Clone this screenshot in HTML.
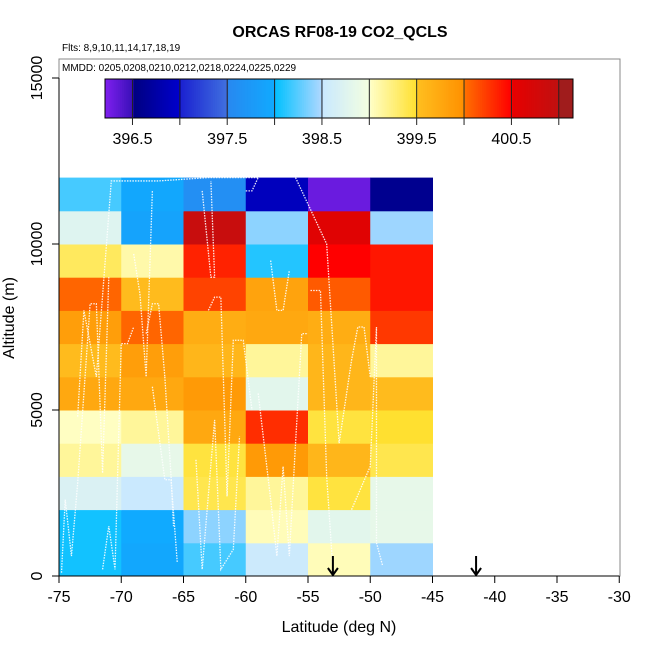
<!DOCTYPE html>
<html><head><meta charset="utf-8"><style>
body{margin:0;background:#fff;font-family:"Liberation Sans",sans-serif}
svg text{font-family:"Liberation Sans",sans-serif}
</style></head><body>
<svg id="chart" width="650" height="650" xmlns="http://www.w3.org/2000/svg">
<rect width="650" height="650" fill="#fff"/>
<text x="340" y="37" text-anchor="middle" font-size="16" font-weight="bold">ORCAS RF08-19 CO2_QCLS</text>
<text x="62" y="51" font-size="10">Flts: 8,9,10,11,14,17,18,19</text>
<rect x="59" y="59" width="561" height="517" fill="none" stroke="#888" stroke-width="1"/>
<text x="62" y="71" font-size="10">MMDD: 0205,0208,0210,0212,0218,0224,0225,0229</text>
<g id="cells"></g>
<g id="tracks" fill="none" stroke="#fff" stroke-width="1.3" stroke-dasharray="1.5 1.2" opacity="0.9"></g>
<g id="cbar"></g>
<g id="axes"></g>
</svg>
<script>
const latEdges = [-75,-70,-65,-60,-55,-50,-45];
const altEdges = [0,1000,2000,3000,4000,5000,6000,7000,8000,9000,10000,11000,12000];
// rows bottom (0-1000 m) to top (11000-12000 m), columns -75..-45
const co2Rows = [
 [398.05,397.95,398.2,398.55,399.05,398.45],
 [398.05,398.0,398.4,399.05,398.8,398.85],
 [398.7,398.52,399.4,399.15,399.45,398.85],
 [399.15,398.85,399.45,399.9,399.6,399.4],
 [399.02,399.15,399.75,400.3,399.45,399.5],
 [399.75,399.75,399.9,398.8,399.6,399.55],
 [399.55,399.85,399.6,399.15,399.6,399.15],
 [399.85,400.05,399.7,399.75,399.7,400.25],
 [400.05,399.55,400.2,399.8,400.1,400.4],
 [399.35,399.1,400.35,398.1,400.5,400.4],
 [398.75,397.9,400.9,398.4,400.6,398.45],
 [398.2,397.95,397.6,396.9,396.3,396.6]
];
const xTicks = [-75,-70,-65,-60,-55,-50,-45,-40,-35,-30];
const yTicks = [0,5000,10000,15000];
const cbTicks = [396.5,397.5,398.5,399.5,400.5];
const cbLines = [396.5,397,397.5,398,398.5,399,399.5,400,400.5,401];
const arrowLats = [-53,-41.5];
const cbMin = 396.21, cbMax = 401.15;
const segs = [
 [396.21,396.5,'#8020f0','#3a10b8'],[396.5,397,'#000080','#0000cc'],[397,397.5,'#1a20d0','#4070e0'],
 [397.5,398,'#2888f0','#10aaff'],[398,398.5,'#00c0ff','#b0d8ff'],[398.5,399,'#c8e8ff','#f4ffe0'],
 [399,399.5,'#ffffc8','#ffe030'],[399.5,400,'#ffc020','#ff9000'],[400,400.5,'#ff7000','#ff0000'],
 [400.5,401,'#e80000','#c01010'],[401,401.2,'#a01c1c','#a01c1c']];
const tracks = [
 [[-74.8,100],[-74.5,2300],[-74,600],[-73.5,2800],[-72.5,8200],[-72,8200],[-71.5,3100],[-71,9000]],
 [[-73.5,4800],[-73,8000],[-72,6000],[-71,10900],[-70.8,11900],[-67,11900],[-63,12000],[-59,12000]],
 [[-71.5,200],[-71,1500],[-70.5,200],[-70,7000],[-69.5,7000],[-69,7500]],
 [[-69,9700],[-68.5,8500],[-68,6000],[-67.5,11600]],
 [[-67.5,5700],[-66.5,2900],[-66,2900],[-65.5,400]],
 [[-66.5,6000],[-66,3000],[-65.8,1500]],
 [[-68,7300],[-67.5,8200],[-67,8200],[-66.5,6000]],
 [[-63.5,11600],[-62.8,9000],[-62.5,9000],[-62.8,11900]],
 [[-63,8000],[-62.5,8400],[-62,8400],[-61.5,2400],[-61,7100],[-60.2,7100],[-59.5,5000]],
 [[-64,3500],[-63.5,200],[-62.5,4700],[-62,200],[-61,800],[-60.5,4200]],
 [[-60,11600],[-59.5,11600],[-59,12000]],
 [[-58,9500],[-57.5,8000],[-57,8000],[-56.5,9200]],
 [[-59,5500],[-58,2300],[-57.5,600],[-57,3300],[-56.5,600],[-56,4000],[-55.5,7300],[-55,7300]],
 [[-56,12000],[-53.5,10000],[-52.5,4000],[-51.5,6500],[-51,7500],[-50.5,7500],[-50,6000]],
 [[-54.8,8600],[-54,8600],[-53.5,3000],[-53,200]],
 [[-51.5,2000],[-50,3300],[-49.5,7500],[-49.5,1000],[-49,300]]
];
const X = v => 59 + (v + 75) * 12.45;
const Y = v => 576 - v * 0.0332;
const NS = 'http://www.w3.org/2000/svg';
function mk(tag, attrs, parent){const e=document.createElementNS(NS,tag);for(const k in attrs)e.setAttribute(k,attrs[k]);parent.appendChild(e);return e;}
function hex(c){return [1,3,5].map(i=>parseInt(c.substr(i,2),16));}
function colorOf(v){
 v=Math.max(cbMin,Math.min(401.19,v));
 for(const s of segs){ if(v>=s[0]&&v<=s[1]){const t=(v-s[0])/(s[1]-s[0]);const a=hex(s[2]),b=hex(s[3]);
  return 'rgb('+a.map((x,i)=>Math.round(x+(b[i]-x)*t)).join(',')+')';}}
 return '#a01c1c';
}
const cells=document.getElementById('cells');
co2Rows.forEach((row,r)=>row.forEach((v,c)=>{
 const el=mk('rect',{x:X(latEdges[c]),y:Y(altEdges[r+1]),width:X(latEdges[c+1])-X(latEdges[c])+0.5,height:Y(altEdges[r])-Y(altEdges[r+1])+0.5,fill:colorOf(v)},cells);
 
 
}));
const tg=document.getElementById('tracks');
tracks.forEach(tr=>{
 const el=mk('polyline',{points:tr.map(p=>X(p[0])+','+Y(p[1])).join(' ')},tg);
 
 
});
const cb=document.getElementById('cbar');
const CX=v=>105+(v-cbMin)/(cbMax-cbMin)*468;
const step=0.02;
for(let v=cbMin; v<cbMax-1e-9; v+=step){
 const x0=CX(v), x1=Math.min(573, CX(v+step)+0.6);
 const el=mk('rect',{x:x0,y:79,width:Math.max(0,x1-x0),height:39,fill:colorOf(v+step/2)},cb);
 
 
}
const cbf=mk('rect',{x:105,y:79,width:468,height:39,fill:'none',stroke:'#000','stroke-width':1},cb);


cbLines.forEach(v=>{
 const el=mk('line',{x1:CX(v),x2:CX(v),y1:79,y2:125,stroke:'#222','stroke-width':1},cb);
 
 
});
cbTicks.forEach(v=>{
 const el=mk('text',{x:CX(v),y:144,'text-anchor':'middle','font-size':'16'},cb);
 el.textContent=v.toFixed(1);
 
 
});
const ax=document.getElementById('axes');
const xl=mk('line',{x1:X(-75),x2:X(-30),y1:576,y2:576,stroke:'#000'},ax);


const yl=mk('line',{x1:59,x2:59,y1:Y(0),y2:Y(15000),stroke:'#000'},ax);


xTicks.forEach(v=>{
 const t=mk('line',{x1:X(v),x2:X(v),y1:576,y2:583,stroke:'#000'},ax);
 
 
 const l=mk('text',{x:X(v),y:602,'text-anchor':'middle','font-size':'16'},ax);
 l.textContent=v;
 
 
});
yTicks.forEach(v=>{
 const t=mk('line',{x1:52,x2:59,y1:Y(v),y2:Y(v),stroke:'#000'},ax);
 
 
 const l=mk('text',{x:0,y:0,'text-anchor':'middle','font-size':'16',transform:'translate(42,'+Y(v)+') rotate(-90)'},ax);
 l.textContent=v;
 
 
});
arrowLats.forEach(v=>{
 const a=mk('path',{d:'M'+X(v)+' 556 L'+X(v)+' 575 M'+(X(v)-5)+' 568 L'+X(v)+' 575 L'+(X(v)+5)+' 568',stroke:'#000','stroke-width':2,fill:'none'},ax);
 
 
});
const xt=mk('text',{x:339,y:632,'text-anchor':'middle','font-size':'16'},ax);
xt.textContent='Latitude (deg N)';


const yt=mk('text',{x:0,y:0,'text-anchor':'middle','font-size':'16',transform:'translate(14,318) rotate(-90)'},ax);
yt.textContent='Altitude (m)';


</script>
</body></html>
